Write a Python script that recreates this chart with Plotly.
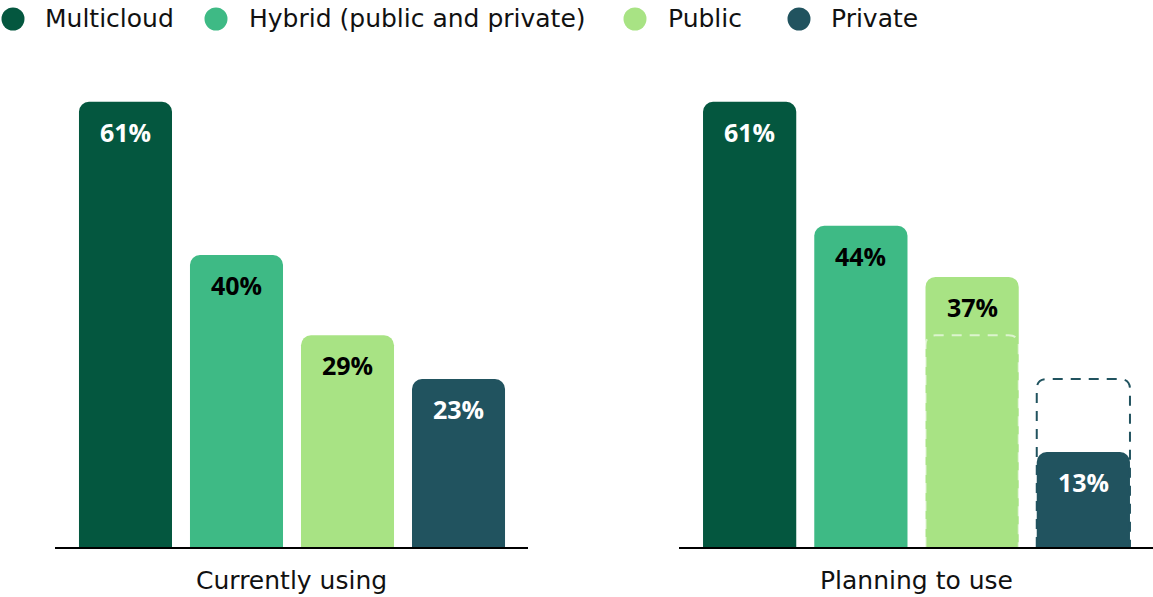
import plotly.graph_objects as go

categories = ["Multicloud", "Hybrid (public and private)", "Public", "Private"]
currently_using = [61, 40, 29, 23]
planning_to_use = [61, 44, 37, 13]
group_titles = ["Currently using", "Planning to use"]
colors = ["#04573F", "#3EBA85", "#A8E384", "#21535F"]
label_colors = ["white", "black", "black", "white"]

FONT = "DejaVu Sans"
LABEL_FONT = "Open Sans"
W, H = 1153, 597
BASE = 547
PX_PER_PCT = 7.3
BAR_W = 0.838

fig = go.Figure()
xs = list(range(len(categories)))

for k, (vals, xa, ya) in enumerate([(currently_using, "x", "y"), (planning_to_use, "x2", "y2")]):
    fig.add_trace(go.Bar(
        x=xs, y=vals, width=BAR_W, marker=dict(color=colors, line=dict(width=0)),
        xaxis=xa, yaxis=ya, showlegend=False, hoverinfo="skip",
    ))
    for i, v in enumerate(vals):
        fig.add_annotation(x=i, y=v, xref=xa, yref=ya, text=f"<b>{v}%</b>",
                           showarrow=False, yshift=-30, yanchor="middle",
                           font=dict(family=LABEL_FONT, size=25, color=label_colors[i]))

# dashed outlines in "Planning to use" showing current values for Public and Private
def outline(i, v):
    l, r = i - BAR_W / 2, i + BAR_W / 2
    rx, ry = 0.09, 10 / PX_PER_PCT
    return (f"M {l},0 L {l},{v - ry} Q {l},{v} {l + rx},{v} L {r - rx},{v} "
            f"Q {r},{v} {r},{v - ry} L {r},0")

fig.add_shape(type="path", path=outline(2, currently_using[2]), xref="x2", yref="y2",
              line=dict(color="rgba(255,255,255,0.6)", width=2, dash="10px,8px"), layer="above")
fig.add_shape(type="path", path=outline(3, currently_using[3]), xref="x2", yref="y2",
              line=dict(color=colors[3], width=2, dash="10px,8px"), layer="above")

yrange = [0, BASE / PX_PER_PCT]
ydom = [(H - BASE) / H, 1]
ax_common = dict(showgrid=False, zeroline=False, showticklabels=False, ticks="",
                 showline=True, linecolor="black", linewidth=2, range=[-0.635, 3.626],
                 fixedrange=True)
y_common = dict(visible=False, range=yrange, domain=ydom, fixedrange=True)

fig.update_layout(
    width=W, height=H,
    margin=dict(l=0, r=0, t=0, b=0),
    paper_bgcolor="white", plot_bgcolor="white",
    barcornerradius=10,
    xaxis=dict(domain=[55 / W, 528 / W], anchor="y", **ax_common),
    xaxis2=dict(domain=[679 / W, 1], anchor="y2", **ax_common),
    yaxis=dict(anchor="x", **y_common),
    yaxis2=dict(anchor="x2", **y_common),
    showlegend=False,
)

# group titles
for cx, t in zip([(55 + 528) / 2 / W, (679 + 1153) / 2 / W], group_titles):
    fig.add_annotation(x=cx, y=1 - 580 / H, xref="paper", yref="paper", text=t,
                       showarrow=False, xanchor="center", yanchor="middle",
                       font=dict(family=FONT, size=25, color="#111111"))

# custom legend
legend_marker_x = [13, 216, 635, 799]
legend_text_x = [43, 247, 666, 829]
ly = 1 - 19 / H
for i, name in enumerate(categories):
    fig.add_shape(type="circle", xref="paper", yref="paper",
                  xsizemode="pixel", ysizemode="pixel",
                  xanchor=legend_marker_x[i] / W, yanchor=ly,
                  x0=-11.5, x1=11.5, y0=-11.5, y1=11.5,
                  fillcolor=colors[i], line=dict(width=0))
    fig.add_annotation(x=legend_text_x[i] / W, y=ly, xref="paper", yref="paper",
                       text=name, showarrow=False, xanchor="left", yanchor="middle",
                       font=dict(family=FONT, size=25, color="#111111"))

fig.write_html("out.html")
